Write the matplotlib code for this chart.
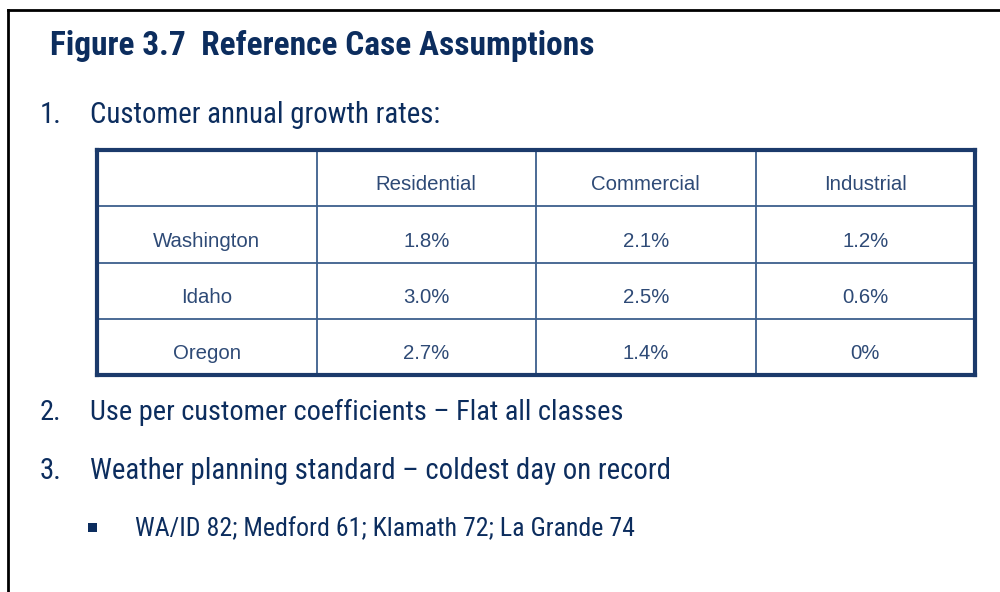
import matplotlib
matplotlib.use("Agg")
import matplotlib.pyplot as plt
from matplotlib import font_manager

title = "Figure 3.7  Reference Case Assumptions"
items = ["Customer annual growth rates:",
         "Use per customer coefficients \u2013 Flat all classes",
         "Weather planning standard \u2013 coldest day on record"]
bullet = "WA/ID 82; Medford 61; Klamath 72; La Grande 74"
columns = ["Residential", "Commercial", "Industrial"]
states = ["Washington", "Idaho", "Oregon"]
residential = ["1.8%", "3.0%", "2.7%"]
commercial = ["2.1%", "2.5%", "1.4%"]
industrial = ["1.2%", "0.6%", "0%"]

names = {f.name for f in font_manager.fontManager.ttflist}
def pick(*cands):
    for c in cands:
        if c in names:
            return c
    return "DejaVu Sans"
narrow = pick("Roboto Condensed", "Archivo Narrow", "PT Sans Narrow", "Liberation Sans")
regular = pick("Liberation Sans", "Arimo", "DejaVu Sans")

W, H = 1000, 592
fig = plt.figure(figsize=(W / 100, H / 100), dpi=100)
fig.patch.set_facecolor("white")
renderer = fig.canvas.get_renderer()

def px(x, y):
    return x / W, 1 - y / H

def fit_text(x, y, s, target_w, size, **kw):
    t = fig.text(*px(x, y), s, fontsize=size, va="center", ha="left", **kw)
    w = t.get_window_extent(renderer).width
    t.set_fontsize(size * target_w / w)
    return t

navy = "#0c2d5e"
# outer frame
fig.add_artist(plt.Line2D([8 / W, 8 / W], [0, 1 - 10 / H], color="black", lw=2,
                          transform=fig.transFigure))
fig.add_artist(plt.Line2D([8 / W, 1], [1 - 10 / H, 1 - 10 / H], color="black", lw=2,
                          transform=fig.transFigure))

fit_text(50, 46, title, 545, 24, family=narrow, fontweight="bold", color=navy)

item_y = [115, 412, 471]
item_w = [350, 533, 580]
for i, (s, yy, ww) in enumerate(zip(items, item_y, item_w)):
    t = fit_text(90, yy, s, ww, 22, family=narrow, color=navy)
    fig.text(*px(40, yy), f"{i + 1}.", fontsize=t.get_fontsize(), va="center",
             ha="left", family=narrow, color=navy)

fig.add_artist(plt.Rectangle(px(88, 532), 9 / W, 9 / H, transform=fig.transFigure,
                             facecolor=navy, edgecolor="none"))
fit_text(135, 529, bullet, 500, 18, family=narrow, color=navy)

# table
x0, x1, y0, y1 = 97, 975, 150, 375
ax = fig.add_axes([x0 / W, 1 - y1 / H, (x1 - x0) / W, (y1 - y0) / H])
ncol = len(columns) + 1
nrow = len(states) + 1
ax.set_xlim(0, ncol)
ax.set_ylim(nrow, 0)
ax.set_xticks([])
ax.set_yticks([])
for sp in ax.spines.values():
    sp.set_color("#1b3a6b")
    sp.set_linewidth(3)
grid_c = "#3d5f8c"
for c in range(1, ncol):
    ax.axvline(c, color=grid_c, lw=1.3)
for r in range(1, nrow):
    ax.axhline(r, color=grid_c, lw=1.3)

tcol = "#2e4a76"
probe = fig.text(0, 0, columns[0], fontsize=12, family=regular)
tsize = 12 * 101 / probe.get_window_extent(renderer).width
probe.remove()
tkw = dict(ha="center", va="center", fontsize=tsize, family=regular, color=tcol)
for j, c in enumerate(columns):
    ax.text(j + 1.5, 0.62, c, **tkw)
data = [residential, commercial, industrial]
for i, s in enumerate(states):
    ax.text(0.5, i + 1.62, s, **tkw)
    for j in range(len(columns)):
        ax.text(j + 1.5, i + 1.62, data[j][i], **tkw)

fig.savefig("out.png", dpi=100, facecolor="white")
